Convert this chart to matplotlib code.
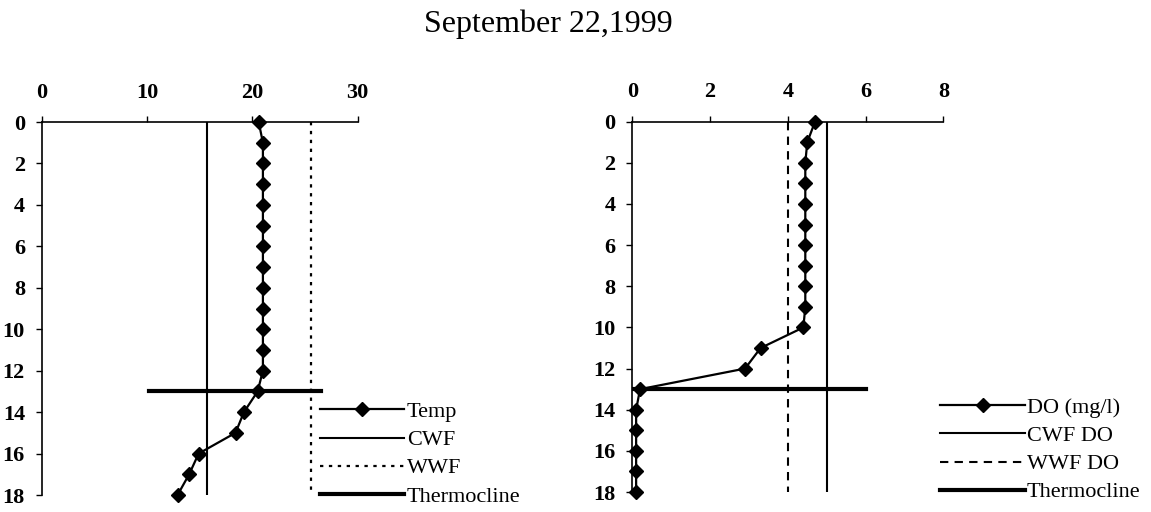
import matplotlib
matplotlib.use("Agg")
import matplotlib.pyplot as plt

plt.rcParams["font.family"] = ["Liberation Serif", "DejaVu Serif"]

# depth profile, 0-18 m
depth = list(range(19))
temp = [20.6, 21.0, 21.0, 21.0, 21.0, 21.0, 21.0, 21.0, 21.0, 21.0,
        21.0, 21.0, 21.0, 20.5, 19.2, 18.4, 14.9, 14.0, 12.9]
do_mgl = [4.7, 4.5, 4.45, 4.45, 4.45, 4.45, 4.45, 4.45, 4.45, 4.45,
          4.4, 3.3, 2.9, 0.2, 0.1, 0.1, 0.1, 0.1, 0.1]

cwf_temp = 15.7
wwf_temp = 25.6
cwf_do = 5.0
wwf_do = 4.0

thermo_depth = 13
thermo_temp_x = [10.2, 26.5]
thermo_do_x = [0, 6]

profile_ends = [0, 18]

temp_ticks = [0, 10, 20, 30]
do_ticks = [0, 2, 4, 6, 8]
depth_ticks = list(range(0, 19, 2))

fig = plt.figure(figsize=(11.51, 5.12), dpi=100)
fig.text(0.476, 0.953, "September 22,1999", ha="center", va="center", fontsize=23)

ax1 = fig.add_axes([0.0362, 0.0332, 0.2746, 0.7285])
ax2 = fig.add_axes([0.5493, 0.0390, 0.2703, 0.7233])


def style(ax, xlim, xticks):
    ax.set_xlim(*xlim)
    ax.set_ylim(18, 0)
    ax.set_xticks(xticks)
    ax.set_yticks(depth_ticks)
    ax.xaxis.tick_top()
    ax.spines[["right", "bottom"]].set_visible(False)
    for s in ("top", "left"):
        ax.spines[s].set_linewidth(1.2)
    ax.tick_params(axis="x", direction="out", length=4, width=1, pad=10, labelsize=16)
    ax.tick_params(axis="y", direction="out", length=4, width=1, pad=8, labelsize=16)
    for t in ax.get_xticklabels() + ax.get_yticklabels():
        t.set_fontweight("bold")


# left: temperature
ax1.plot(temp, depth, color="black", lw=1.6, marker="D", ms=7.5, label="Temp",
         zorder=4, clip_on=False)
ax1.plot([cwf_temp] * 2, profile_ends, color="black", lw=1.5, label="CWF")
ax1.plot([wwf_temp] * 2, profile_ends, color="black", lw=1.6, ls=(0, (1.5, 2.5)), label="WWF")
ax1.plot(thermo_temp_x, [thermo_depth] * 2, color="black", lw=3, label="Thermocline")
style(ax1, (0, 30), temp_ticks)

# right: dissolved oxygen
ax2.plot(do_mgl, depth, color="black", lw=1.6, marker="D", ms=7.5, label="DO (mg/l)",
         zorder=4, clip_on=False)
ax2.plot([cwf_do] * 2, profile_ends, color="black", lw=1.5, label="CWF DO")
ax2.plot([wwf_do] * 2, profile_ends, color="black", lw=1.5, ls=(0, (4, 3)), label="WWF DO")
ax2.plot(thermo_do_x, [thermo_depth] * 2, color="black", lw=3, label="Thermocline")
style(ax2, (0, 8), do_ticks)

leg_kw = dict(frameon=False, fontsize=16, handlelength=3.8, handletextpad=0.1,
              labelspacing=0.34, borderpad=0, borderaxespad=0, loc="center left")
fig.legend(*ax1.get_legend_handles_labels(), bbox_to_anchor=(0.278, 0.113), **leg_kw)
fig.legend(*ax2.get_legend_handles_labels(), bbox_to_anchor=(0.817, 0.121), **leg_kw)

fig.savefig("out.png", dpi=100)
